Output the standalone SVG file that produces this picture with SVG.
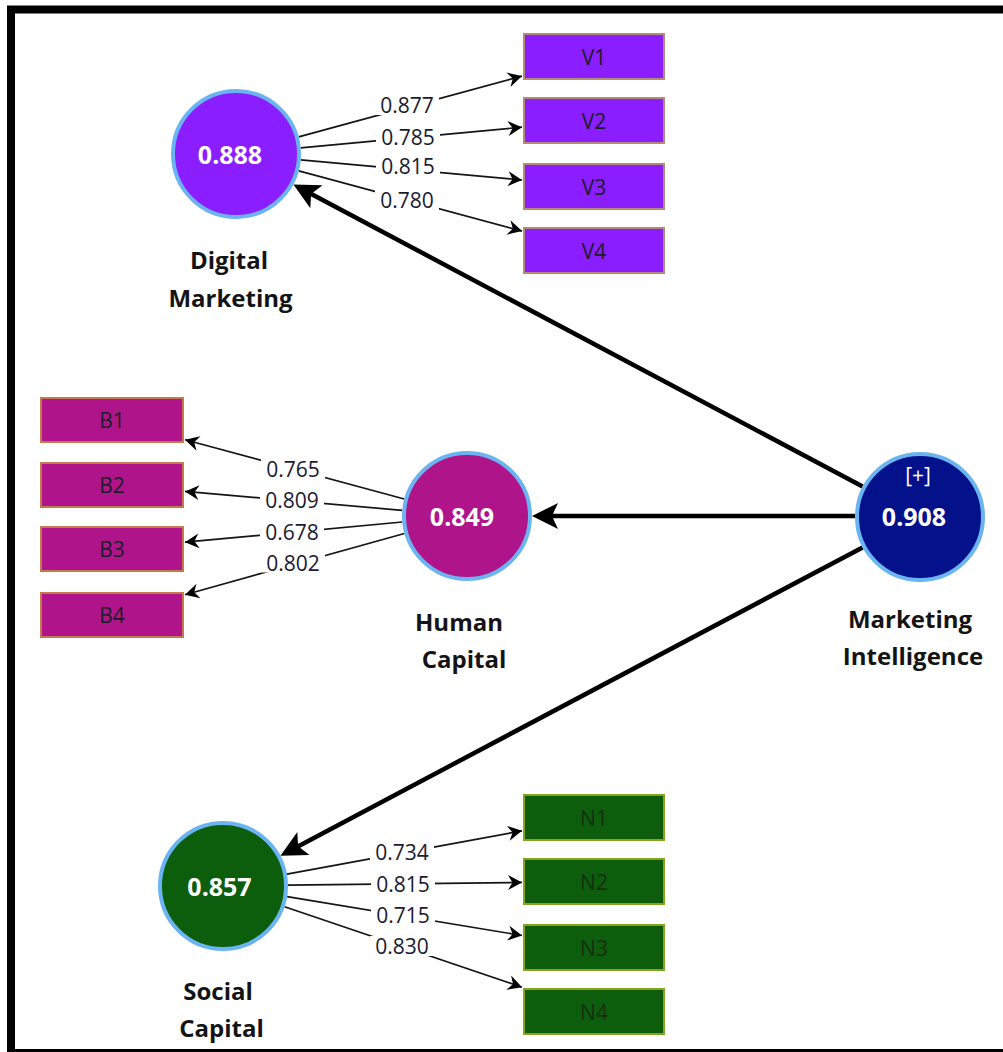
<svg xmlns="http://www.w3.org/2000/svg" width="1003" height="1052" viewBox="0 0 1003 1052">
  <style>
    .frame { fill: none; stroke: #000; stroke-width: 8; }
    .lv { stroke: #6ab4f2; stroke-width: 4; }
    .val { font-family: "Open Sans", "Noto Sans", "Liberation Sans", sans-serif; font-weight: bold; font-size: 25px; fill: #fff; text-anchor: middle; dominant-baseline: central; }
    .name { font-family: "Open Sans", "Noto Sans", "Liberation Sans", sans-serif; font-weight: bold; font-size: 24px; fill: #141414; text-anchor: middle; }
    .ind { stroke-width: 2; }
    .ind-txt { font-family: "Open Sans", "Noto Sans", "Liberation Sans", sans-serif; font-size: 21px; fill: #1c1c28; text-anchor: middle; dominant-baseline: central; }
    .v { fill: #8b1eff; stroke: #b48a78; }
    .b { fill: #b0148a; stroke: #c47a4c; }
    .n { fill: #0c5e0c; stroke: #86a41c; }
    .load { stroke: #141414; stroke-width: 1.7; fill: none; }
    .path { stroke: #000; stroke-width: 4.5; fill: none; }
    .lbg { fill: #fff; }
    .ltxt { font-family: "Open Sans", "Noto Sans", "Liberation Sans", sans-serif; font-size: 21px; fill: #1a1a30; text-anchor: middle; dominant-baseline: central; }
  </style>
  <defs>
    <marker id="thin" markerUnits="userSpaceOnUse" viewBox="-15 -9 17 18" markerWidth="17" markerHeight="18" refX="0" refY="0" orient="auto">
      <path d="M0,0 L-14,-7.5 L-9.5,0 L-14,7.5 Z" fill="#000"/>
    </marker>
    <marker id="thick" markerUnits="userSpaceOnUse" viewBox="-21 -14 31 28" markerWidth="31" markerHeight="28" refX="0" refY="0" orient="auto">
      <path d="M8,0 L-18,-13 L-12,0 L-18,13 Z" fill="#000"/>
    </marker>
  </defs>

  <rect class="frame" x="11" y="9.5" width="1005" height="1043.5"/>

  <!-- connectors: loadings and structural paths -->
  <g id="connectors">
    <line class="load" x1="298.7" y1="136.9" x2="522" y2="76.1" marker-end="url(#thin)"/>
    <line class="load" x1="300.7" y1="147.9" x2="522" y2="127.2" marker-end="url(#thin)"/>
    <line class="load" x1="300.7" y1="159.9" x2="522" y2="180.0" marker-end="url(#thin)"/>
    <line class="load" x1="298.8" y1="170.9" x2="522" y2="231.1" marker-end="url(#thin)"/>

    <line class="load" x1="404.3" y1="499.0" x2="185" y2="439.8" marker-end="url(#thin)"/>
    <line class="load" x1="402.2" y1="510.3" x2="185" y2="491.4" marker-end="url(#thin)"/>
    <line class="load" x1="402.3" y1="522.0" x2="185" y2="542.2" marker-end="url(#thin)"/>
    <line class="load" x1="404.4" y1="533.5" x2="185" y2="594.7" marker-end="url(#thin)"/>

    <line class="load" x1="286.9" y1="874.2" x2="522" y2="830.8" marker-end="url(#thin)"/>
    <line class="load" x1="288.0" y1="885.2" x2="522" y2="882.4" marker-end="url(#thin)"/>
    <line class="load" x1="287.1" y1="896.6" x2="522" y2="935.5" marker-end="url(#thin)"/>
    <line class="load" x1="284.6" y1="906.8" x2="522" y2="987.2" marker-end="url(#thin)"/>

    <line class="path" x1="862.6" y1="486.5" x2="300.5" y2="188.3" marker-end="url(#thick)"/>
    <line class="path" x1="855" y1="516" x2="540" y2="516" marker-end="url(#thick)"/>
    <line class="path" x1="862.6" y1="547.4" x2="287.5" y2="851.9" marker-end="url(#thick)"/>

    <!-- loading values -->
    <g>
      <rect class="lbg" x="375" y="95" width="64" height="20"/><text class="ltxt" x="407" y="105">0.877</text>
      <rect class="lbg" x="376" y="127" width="64" height="20"/><text class="ltxt" x="408" y="137">0.785</text>
      <rect class="lbg" x="376" y="156" width="64" height="20"/><text class="ltxt" x="408" y="166">0.815</text>
      <rect class="lbg" x="375" y="190" width="64" height="20"/><text class="ltxt" x="407" y="200">0.780</text>

      <rect class="lbg" x="261" y="459" width="64" height="20"/><text class="ltxt" x="293" y="469">0.765</text>
      <rect class="lbg" x="260" y="490" width="64" height="20"/><text class="ltxt" x="292" y="500">0.809</text>
      <rect class="lbg" x="260" y="521.5" width="64" height="20"/><text class="ltxt" x="292" y="531.5">0.678</text>
      <rect class="lbg" x="261" y="552.5" width="64" height="20"/><text class="ltxt" x="293" y="562.5">0.802</text>

      <rect class="lbg" x="370" y="842" width="64" height="20"/><text class="ltxt" x="402" y="852">0.734</text>
      <rect class="lbg" x="371" y="873.5" width="64" height="20"/><text class="ltxt" x="403" y="883.5">0.815</text>
      <rect class="lbg" x="371" y="905" width="64" height="20"/><text class="ltxt" x="403" y="915">0.715</text>
      <rect class="lbg" x="370" y="936" width="64" height="20"/><text class="ltxt" x="402" y="946">0.830</text>
    </g>
  </g>

  <!-- latent variables -->
  <g id="digital-marketing">
    <circle class="lv" cx="236" cy="154" r="63" fill="#8b1eff"/>
    <text class="val" x="230" y="154">0.888</text>
    <text class="name" x="229" y="269">Digital</text>
    <text class="name" x="230.5" y="306.5">Marketing</text>
  </g>
  <g id="human-capital">
    <circle class="lv" cx="467" cy="516" r="63" fill="#b0148a"/>
    <text class="val" x="462" y="516">0.849</text>
    <text class="name" x="459" y="630.5">Human</text>
    <text class="name" x="464" y="668">Capital</text>
  </g>
  <g id="marketing-intelligence">
    <circle class="lv" cx="920" cy="517" r="63" fill="#03118a"/>
    <text class="val" x="918" y="475" style="font-weight:normal;font-size:21px">[+]</text>
    <text class="val" x="914" y="516">0.908</text>
    <text class="name" x="910" y="628">Marketing</text>
    <text class="name" x="913" y="665">Intelligence</text>
  </g>
  <g id="social-capital">
    <circle class="lv" cx="223" cy="886" r="63" fill="#0c5e0c"/>
    <text class="val" x="219.5" y="886">0.857</text>
    <text class="name" x="218" y="1000">Social</text>
    <text class="name" x="221.5" y="1037">Capital</text>
  </g>

  <!-- indicators -->
  <g id="V1"><rect class="v ind" x="524" y="34" width="140" height="45"/><text class="ind-txt" x="594" y="56.5">V1</text></g>
  <g id="V2"><rect class="v ind" x="524" y="98" width="140" height="45"/><text class="ind-txt" x="594" y="120.5">V2</text></g>
  <g id="V3"><rect class="v ind" x="524" y="164" width="140" height="45"/><text class="ind-txt" x="594" y="186.5">V3</text></g>
  <g id="V4"><rect class="v ind" x="524" y="228" width="140" height="45"/><text class="ind-txt" x="594" y="250.5">V4</text></g>

  <g id="B1"><rect class="b ind" x="41" y="398" width="142" height="44"/><text class="ind-txt" x="112" y="420">B1</text></g>
  <g id="B2"><rect class="b ind" x="41" y="463" width="142" height="44"/><text class="ind-txt" x="112" y="485">B2</text></g>
  <g id="B3"><rect class="b ind" x="41" y="527" width="142" height="44"/><text class="ind-txt" x="112" y="549">B3</text></g>
  <g id="B4"><rect class="b ind" x="41" y="593" width="142" height="44"/><text class="ind-txt" x="112" y="615">B4</text></g>

  <g id="N1"><rect class="n ind" x="524" y="795" width="140" height="45"/><text class="ind-txt" x="594" y="817.5" style="fill:#1a2e12">N1</text></g>
  <g id="N2"><rect class="n ind" x="524" y="859" width="140" height="45"/><text class="ind-txt" x="594" y="881.5" style="fill:#1a2e12">N2</text></g>
  <g id="N3"><rect class="n ind" x="524" y="925" width="140" height="45"/><text class="ind-txt" x="594" y="947.5" style="fill:#1a2e12">N3</text></g>
  <g id="N4"><rect class="n ind" x="524" y="989" width="140" height="45"/><text class="ind-txt" x="594" y="1011.5" style="fill:#1a2e12">N4</text></g>
</svg>
